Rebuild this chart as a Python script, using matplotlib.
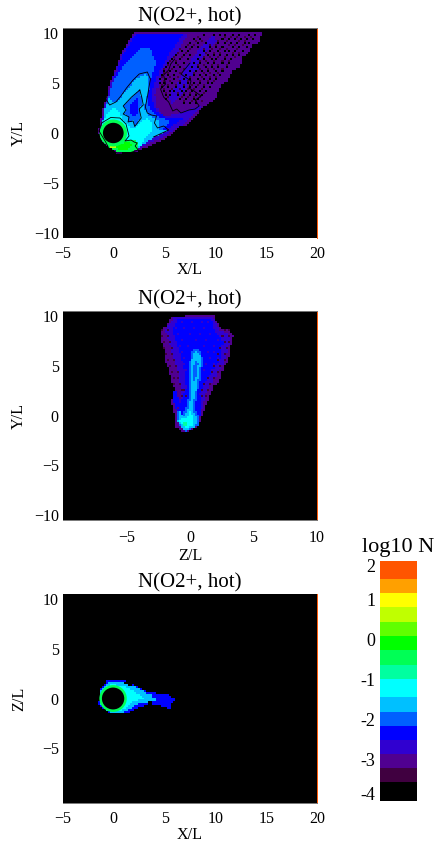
import numpy as np
import matplotlib
matplotlib.use("Agg")
import matplotlib.pyplot as plt
from matplotlib.colors import ListedColormap, BoundaryNorm
from matplotlib.path import Path
from matplotlib.patches import Circle

plt.rcParams['font.family'] = ['Liberation Serif', 'DejaVu Serif']

W, H = 435, 846

# colour scale, log10 N
levels = [-4, -3.53, -3.18, -2.83, -2.48, -2.12, -1.77, -1.4, -0.95, -0.6, -0.22, 0.13, 0.48, 0.84, 1.19, 1.54, 2]
colors = ['#000000', '#400040', '#500090', '#3000d0', '#0000ff', '#0060ff', '#00c0ff', '#00ffff',
          '#00ffa0', '#00ff55', '#00ff00', '#60ff00', '#c0ff00', '#ffff00', '#ffa000', '#ff5500']
cbar_ticks = [2, 1, 0, -1, -2, -3, -4]

# panel 1, X-Y plane: outlines of density levels
p1_env = [(2.0, 10), (14.7, 10), (14.3, 9.4), (14.4, 9.1), (13.6, 8.8), (13.3, 8.0), (12.7, 7.6), (12.4, 6.5), (11.7, 6.3),
          (11.2, 5.2), (10.6, 4.8), (10.1, 3.5), (9.1, 2.7), (8.6, 2.5), (8.1, 1.6), (7.15, 0.8), (6.5, 0.7), (5.8, 0.0),
          (4.5, -0.9), (2.2, -1.9), (0.25, -2.05), (-1.05, -0.9), (-1.6, 0.1), (-1.3, 1.5), (-1.05, 2.8), (-0.7, 3.6),
          (-0.4, 5.1), (0.1, 6.2), (0.75, 8), (1.4, 9.1)]
p1_indigo = [(2.0, 9.9), (7.3, 9.9), (6.2, 8), (5, 6.5), (4.5, 5), (4.1, 3.8), (4.3, 2.5), (4.8, 1.5), (6, 1.9), (8, 2.5),
             (9, 2.9), (7.2, 1.1), (5, -0.3), (2.3, -1.6), (0.3, -1.8), (-0.9, -0.8), (-1.4, 0.1), (-0.9, 2.8),
             (-0.3, 5.1), (0.8, 7.9)]
p1_streak = [(9.8, 9.8), (10.2, 9.1), (9.2, 8.2), (8.7, 7.4), (8.3, 6.2), (7.6, 5.6), (7.0, 4.3), (6.3, 3.4), (5.6, 2.8),
             (5.4, 3.8), (6.3, 5), (7, 6.5), (8.5, 8.5)]
p1_blue = [(2.2, 9.9), (6.8, 9.9), (5.5, 8), (4.5, 6.2), (4, 4.8), (3.7, 3.8), (4.2, 2.2), (5.2, 1.4), (7, 1.6), (6, 0.9),
           (4.5, -0.1), (2.4, -1.4), (0.4, -1.7), (-0.8, -0.7), (-1.2, 0.3), (-0.7, 2.8), (-0.1, 5.1), (0.9, 7.8)]
p1_azure = [(-1.2, 0.4), (-0.8, 2.8), (-0.1, 5.1), (0.8, 6.5), (2.6, 8.5), (3.6, 8.5), (4.2, 7), (3.7, 5.5), (3.5, 4.2),
            (3.3, 3), (3.8, 2.2), (4.6, 1.5), (5.5, 1.2), (4.8, 0.4), (3.6, -0.6), (2.4, -1.4), (0.4, -1.7), (-0.8, -0.7)]
p1_sky = [(-1.3, 0.3), (-0.9, 2.4), (-0.5, 3.4), (0.2, 3.0), (1.25, 4.2), (2.3, 5.5), (3.2, 5.9), (3.5, 5.2), (3.3, 3.6),
          (3, 2.5), (3.5, 1.7), (4.5, 1.3), (4.4, 0.4), (5.5, 0.3), (3.9, -0.5), (2.6, -1.4), (0.5, -1.6), (-0.8, -0.6)]
p1_void = [(2.56, 4.3), (2.75, 3.6), (2.9, 2.8), (2.5, 2.4), (2.7, 1.5), (2.06, 0.65), (1.9, 1.2), (1.4, 1.1), (1.5, 1.6),
           (0.92, 1.9), (1.2, 2.3), (0.92, 2.7), (1.75, 3.6)]
p1_void_core = [(2.4, 3.6), (2.5, 2.5), (2.2, 1.6), (1.6, 1.9), (1.5, 2.6)]
p1_cyan = [(-1.3, 0.2), (-0.8, 1.9), (0, 2.5), (0.6, 2.1), (0.8, 1.3), (1.6, 0.6), (2.2, 0.5), (2.9, 1.2), (3.3, 1.4),
           (3.9, 1.0), (3.7, 0.1), (3.2, -0.4), (2.7, -1.3), (0.5, -1.5), (-0.8, -0.5)]
p1_spring = [(-0.6, -1.1), (0.8, -0.7), (1.6, -0.7), (2.1, -0.7), (2.5, -1.2), (2.4, -1.7), (1.5, -1.9), (0.3, -1.9),
             (-0.5, -1.5)]
p1_green = [(0.2, -1.2), (1.5, -0.9), (1.9, -1.2), (1.5, -1.6), (0.4, -1.7)]
p1_lime = [(-0.4, -1.0), (0.3, -1.1), (0.2, -1.5), (-0.3, -1.5)]
p1_layers = [(-3.0, p1_env), (-2.7, p1_indigo), (-2.7, p1_streak), (-2.3, p1_blue), (-1.9, p1_azure), (-1.6, p1_sky),
             (-1.9, p1_void), (-2.3, p1_void_core), (-1.2, p1_cyan), (-0.4, p1_spring), (0, p1_green), (0.7, p1_lime)]

# black specks in the faint part of the tail, by row
p1_hole_rows = [
    (9.7, [8.9, 9.9, 10.5, 11.0, 11.8, 12.4, 13.3, 14.0]),
    (9.5, [8.3, 10.9, 11.5, 12.1, 12.9, 13.6]),
    (9.3, [7.9, 8.5, 10.7, 11.3, 11.9, 12.6, 13.2, 13.8]),
    (9.1, [8.1, 8.8, 10.4, 11.1, 12.3, 13.0]),
    (8.9, [7.6, 8.3, 9.1, 10.3, 10.9, 11.5, 12.2, 12.9, 13.4]),
    (8.7, [7.4, 8.0, 9.5, 10.1, 11.3, 12.0, 12.7]),
    (8.5, [7.1, 7.8, 8.4, 9.6, 10.2, 10.8, 11.7, 12.4, 13.1]),
    (8.3, [6.6, 7.5, 8.9, 9.8, 10.5, 11.1, 12.2]),
    (8.1, [6.8, 7.3, 8.9, 9.5, 10.3, 10.9, 11.4, 12.0, 12.7]),
    (7.9, [6.4, 7.1, 9.2, 9.9, 10.6, 11.7, 12.3]),
    (7.7, [6.2, 7.0, 7.6, 8.6, 9.3, 9.9, 10.6, 11.2, 11.8, 12.3]),
    (7.5, [5.9, 6.7, 8.9, 9.6, 10.3, 11.0, 11.9]),
    (7.3, [5.8, 6.5, 7.3, 8.3, 8.9, 9.7, 10.2, 11.0, 11.6]),
    (7.1, [5.6, 6.2, 8.5, 9.2, 9.9, 10.7, 11.3]),
    (6.9, [5.4, 6.1, 6.9, 8.0, 8.6, 9.4, 10.0, 10.7, 11.4]),
    (6.7, [5.3, 6.4, 8.3, 9.0, 9.7, 10.3, 11.1]),
    (6.5, [5.2, 5.9, 6.5, 7.8, 8.3, 9.1, 9.8, 10.4, 11.1]),
    (6.3, [5.0, 5.7, 6.9, 8.6, 9.3, 10.0, 10.8]),
    (6.1, [5.0, 5.6, 6.2, 7.5, 8.1, 8.7, 9.4, 10.1, 10.8]),
    (5.9, [4.9, 5.4, 6.6, 7.9, 8.9, 9.6, 10.4]),
    (5.7, [4.8, 5.3, 5.9, 7.2, 7.9, 8.5, 9.2, 9.9, 10.5]),
    (5.5, [4.7, 5.6, 6.4, 7.5, 8.8, 9.5, 10.2]),
    (5.3, [4.6, 5.2, 6.0, 7.0, 7.6, 8.3, 9.0, 9.6, 10.2]),
    (5.1, [4.9, 5.5, 6.5, 7.3, 8.6, 9.4, 10.0]),
    (4.9, [4.5, 5.0, 5.7, 6.6, 7.3, 8.0, 8.6, 9.3, 9.8]),
    (4.7, [4.7, 5.3, 6.1, 7.0, 7.8, 8.4, 9.0]),
    (4.5, [4.7, 5.4, 6.2, 6.9, 7.6, 8.2, 8.9, 9.5]),
    (4.3, [4.9, 5.8, 6.5, 7.3, 8.0, 8.7]),
    (4.1, [4.9, 5.5, 6.0, 6.7, 7.2, 7.8, 8.5, 9.1]),
    (3.9, [5.2, 6.3, 7.0, 7.6, 8.2, 8.9]),
    (3.7, [5.1, 5.6, 6.4, 6.9, 7.5, 8.1, 8.7]),
    (3.5, [5.3, 6.7, 7.3, 7.9, 8.5]),
    (3.3, [5.2, 6.6, 7.2, 7.9, 8.4]),
    (3.1, [7.0, 7.7, 8.2, 8.8]),
    (2.9, [7.0, 7.6, 8.1]),
]

# black contour lines, panel 1
p1_line_ring = [(-1.45, 0.2), (-1.2, 1.0), (-0.3, 1.55), (0.6, 1.5), (1.2, 0.9), (1.5, -0.3), (1.1, -0.8), (1.7, -0.7),
                (2.0, -0.9), (2.3, -1.0), (2.1, -1.3), (2.4, -1.7), (1.5, -2), (0.3, -2), (-0.5, -1.5), (-0.8, -0.9), (-1.45, 0.2)]
p1_line_tongue = [(-0.9, 4.5), (-0.6, 3.9), (-0.8, 3.4), (-0.4, 2.8), (0.2, 3.1), (0.7, 3.7), (1.25, 4.5), (1.9, 5.3), (2.5, 5.9),
                  (3.3, 6.1), (3.6, 5.4), (3.3, 3.6), (3.1, 2.6), (3.3, 2.0), (3.7, 1.8), (4.2, 1.7), (4.0, 1.0), (4.3, 0.5),
                  (4.9, 0.7), (5.4, 0.3), (3.9, -0.4)]
p1_line_tail = [(6.0, 7.4), (5.6, 6.9), (5.4, 6.3), (4.9, 5.8), (5.1, 4.9), (4.6, 4.4), (4.9, 3.6), (5.4, 3.1), (5.8, 2.2), (6.2, 2.4),
                (6.6, 2.0), (7.4, 2.3), (8.0, 2.4), (8.4, 2.7), (8.0, 3.3), (8.6, 3.7), (7.9, 4.2), (7.4, 4.5), (7.6, 5.2),
                (6.6, 5.9), (7.1, 6.5), (7.5, 7.0)]
p1_lines = [p1_line_ring, p1_void + p1_void[:1], p1_line_tongue, p1_line_tail]

# panel 2, Z-Y plane
p2_env = [(-1.44, 9.93), (-0.4, 10), (0.53, 10), (1.97, 10), (2.1, 9.5), (2.49, 8.73), (2.9, 8.6), (3.41, 8.07), (3.2, 7.0),
          (3.02, 5.67), (2.6, 4.8), (2.36, 3.5), (1.9, 3.0), (1.44, 1.5), (1.2, 0.9), (1.0, 0), (0.66, -1.17), (-0.39, -1.83),
          (-1.18, -1.17), (-1.31, 0.67), (-1.5, 1.4), (-1.23, 2.67), (-1.5, 3.4), (-1.71, 4.67), (-1.95, 5.5), (-2.1, 7.0),
          (-2.4, 7.6), (-2.31, 8.73), (-1.9, 9.0)]
p2_indigo = [(-1.3, 9.8), (1.9, 9.8), (2.4, 8.5), (3.2, 8.0), (2.8, 5.8), (2.2, 4.2), (1.6, 3.0), (1.2, 2.0), (0.9, 0.3), (-1, 0.3),
             (-0.7, 2.5), (-1.0, 4.5), (-1.6, 7), (-2.0, 8.6)]
p2_blue = [(-1.0, 9.7), (1.7, 9.7), (2.1, 8.3), (2.6, 7.5), (2.4, 5.6), (1.5, 4.0), (0.8, 2.2), (0.9, 0), (-0.4, -1.3),
           (-1.0, -0.5), (-1, 0.5), (-0.8, 1.2), (-0.3, 2.8), (-0.5, 5), (-1, 7), (-1.4, 8.5)]
p2_left_lobe = [(-1.3, 2.6), (-1.0, 2.4), (-0.9, 1.0), (-1.1, 0.6), (-1.3, 1.4)]
p2_azure = [(0.13, 6.5), (0.53, 6.83), (0.92, 6.33), (1.0, 5.33), (0.79, 3.5), (0.53, 2.0), (0.39, 0.67), (0.79, -0.17),
            (0.66, -1.0), (-0.26, -1.67), (-0.92, -1.0), (-1.05, 0.67), (-0.66, 0), (-0.26, 1.0), (-0.05, 2.67), (-0.13, 4.67)]
p2_sky = [(0.26, 6.33), (0.58, 6.5), (0.87, 6.0), (0.79, 4.67), (0.53, 2.83), (0.26, 1.33), (0.26, 0.33), (0.66, -0.5),
          (0.26, -1.33), (-0.53, -1.5), (-0.97, -0.67), (-0.84, 0.5), (-0.53, -0.17), (-0.05, 1.0), (0.13, 2.67), (0, 4.67)]
p2_hollow = [(0.39, 5.5), (0.66, 5.33), (0.58, 4.17), (0.39, 3.5), (0.2, 3.5), (0.2, 4.67)]
p2_cyan = [(0, 0.5), (0.26, -0.17), (0.26, -1.0), (-0.39, -1.33), (-0.84, -0.67), (-0.66, -0.27), (-0.26, -0.33)]
p2_mint = [(-0.55, -0.7), (-0.2, -0.8), (-0.2, -1.2), (-0.55, -1.2)]
p2_layers = [(-3.0, p2_env), (-2.7, p2_indigo), (-2.3, p2_blue), (-2.3, p2_left_lobe), (-1.9, p2_azure), (-1.6, p2_sky),
             (-1.9, p2_hollow), (-1.2, p2_cyan), (-0.8, p2_mint)]

# dark and bright specks, panel 2: (Y, Z values)
p2_dark_rows = [
    (8.6, [-2.2, -1.8, 2.7, 3.1]), (8.0, [-2.2, -1.7, 2.5, 3.0]), (7.4, [-2.1, -1.6, 2.7, 3.1]),
    (6.8, [-2.0, -1.5, 2.4, 2.9]), (6.2, [-1.9, -1.4, 2.3, 2.8]), (5.6, [-1.8, -1.2, 2.2, 2.7]),
    (5.0, [-1.6, -1.1, 1.9, 2.4]), (4.4, [-1.5, -1.0, 1.7, 2.2]), (3.8, [-1.3, -0.9, 1.4, 2.0]),
    (3.2, [-1.2, -0.8, 1.1, 1.6]), (2.6, [-0.7, -0.4, 0.9, 1.4]), (2.0, [-0.7, -0.3, 1.0, 1.3]),
]
p2_indigo_rows = [
    (9.4, [-0.7, 0.2, 0.9, 1.5]), (8.8, [-1.1, -0.4, 0.4, 1.2, 1.9]), (8.2, [-0.9, 0.0, 0.8, 1.6]),
    (7.6, [-0.6, 0.5, 1.3, 2.2]), (7.0, [-0.8, -0.2, 1.1, 1.9]), (6.4, [-0.7, 1.4, 2.0]),
    (5.8, [-0.4, 1.6, 2.2]), (5.2, [-0.5, 1.3, 1.9]), (4.6, [-0.3, 1.2, 1.7]),
]

# panel 3, X-Z plane
p3_blue = [(-0.72, 1.8), (0.2, 1.9), (1.25, 1.8), (2.56, 1.13), (3.54, 0.63), (4.0, 0.7), (4.53, 0.47), (5.2, 0.6), (5.51, 0.3),
           (6.23, -0.1), (5.51, -0.53), (5.68, -1.2), (4.85, -0.87), (4.2, -0.7), (3.54, -0.53), (2.39, -1.03), (1.25, -1.53),
           (-0.39, -1.53), (-1.54, -0.7), (-1.38, 1.0)]
p3_sky = [(-0.6, 1.65), (1.1, 1.65), (2.6, 1.0), (3.5, 0.45), (4.4, 0.25), (4.2, -0.3), (3.0, -0.45), (1.9, -0.95),
          (0.9, -1.45), (-0.4, -1.45), (-1.4, -0.65), (-1.3, 0.9)]
p3_cyan = [(-0.4, 1.45), (0.9, 1.35), (2.2, 0.65), (3.0, 0.0), (1.9, -0.4), (0.9, -1.2), (-0.4, -1.3), (-1.2, -0.5), (-1.2, 0.8)]
p3_patch_a = [(2.1, -0.65), (2.9, -0.5), (2.55, -0.95), (2.1, -0.95)]
p3_patch_b = [(3.85, 0.2), (5.2, 0.3), (5.3, -0.1), (4.2, 0)]
p3_gap_a = [(1.1, 1.75), (1.9, 1.45), (1.7, 1.3), (1.1, 1.55)]
p3_gap_b = [(3.4, -0.3), (4.0, -0.3), (3.8, -0.5), (3.4, -0.45)]
p3_layers = [(-2.3, p3_blue), (-1.6, p3_sky), (-1.2, p3_cyan), (-2.3, p3_patch_a), (-2.3, p3_patch_b), (-3.9, p3_gap_a),
             (-3.9, p3_gap_b)]

cmap = ListedColormap(colors)
norm = BoundaryNorm(levels, cmap.N)


def px_axes(left, top, right, bottom):
    return fig.add_axes([left / W, 1 - bottom / H, (right - left) / W, (bottom - top) / H])


def draw_field(layers, xlim, ylim, step_x, step_y):
    xe = np.arange(xlim[0], xlim[1] + step_x, step_x)
    ye = np.arange(ylim[0], ylim[1] + step_y, step_y)
    xc, yc = np.meshgrid((xe[:-1] + xe[1:]) / 2, (ye[:-1] + ye[1:]) / 2)
    pts = np.column_stack([xc.ravel(), yc.ravel()])
    field = np.full(xc.shape, -3.9)
    for val, poly in layers:
        inside = Path(poly + [poly[0]]).contains_points(pts).reshape(xc.shape)
        field[inside] = val
    return xe, ye, field


def set_cells(field, xe, ye, rows, val):
    for y, xs in rows:
        j = np.searchsorted(ye, y) - 1
        for x in xs:
            field[j, np.searchsorted(xe, x) - 1] = val


def style(ax, xlim, ylim, xticks, yticks, xlabel, ylabel, top_line, bottom_line, xpad, labelpad):
    ax.set_xlim(xlim)
    ax.set_ylim(ylim)
    ax.set_xticks(xticks)
    ax.set_yticks(yticks)
    ax.tick_params(length=0, labelsize=11.5)
    ax.tick_params(axis='x', pad=xpad)
    ax.tick_params(axis='y', pad=3)
    ax.set_title("N(O2+, hot)", fontsize=15, pad=5)
    ax.set_xlabel(xlabel, fontsize=11.6, labelpad=labelpad)
    ax.set_ylabel(ylabel, fontsize=11.6)
    ax.yaxis.set_label_coords((27 - 63) / 254, 0.5)
    ax.spines['left'].set_visible(False)
    ax.spines['right'].set_color('#ff5500')
    ax.spines['right'].set_linewidth(0.7)
    ax.spines['top'].set_color('#777777')
    ax.spines['top'].set_linewidth(0.7)
    ax.spines['top'].set_visible(top_line)
    ax.spines['bottom'].set_color('#777777')
    ax.spines['bottom'].set_linewidth(0.7)
    ax.spines['bottom'].set_visible(bottom_line)


fig = plt.figure(figsize=(W / 100, H / 100), dpi=100)

# panel 1
ax1 = px_axes(63, 28, 317, 238)
xlim1, ylim1 = (-5, 20), (-10.5, 10.5)
xe, ye, f1 = draw_field(p1_layers, xlim1, ylim1, 0.2, 0.2)
set_cells(f1, xe, ye, p1_hole_rows[::2], -3.9)
set_cells(f1, xe, ye, p1_hole_rows[1::2], -3.3)
ax1.pcolormesh(xe, ye, f1, cmap=cmap, norm=norm, antialiased=False)
ax1.add_patch(Circle((-0.05, 0), 1.35, color='#00ff55', lw=0))
ax1.add_patch(Circle((-0.05, 0), 1.02, color='black', lw=0))
for line in p1_lines:
    lx, ly = zip(*line)
    ax1.plot(lx, ly, color='black', lw=0.6)
style(ax1, xlim1, ylim1, [-5, 0, 5, 10, 15, 20], [-10, -5, 0, 5, 10], "X/L", "Y/L", True, False, 6, 0)

# panel 2
ax2 = px_axes(63, 311, 317, 520)
xlim2, ylim2 = (-10, 10), (-10.5, 10.5)
xe, ye, f2 = draw_field(p2_layers, xlim2, ylim2, 0.16, 0.2)
set_cells(f2, xe, ye, p2_dark_rows, -3.3)
set_cells(f2, xe, ye, p2_indigo_rows, -2.7)
ax2.pcolormesh(xe, ye, f2, cmap=cmap, norm=norm, antialiased=False)
style(ax2, xlim2, ylim2, [-5, 0, 5, 10], [-10, -5, 0, 5, 10], "Z/L", "Y/L", True, True, 7.5, 1)

# panel 3
ax3 = px_axes(63, 594, 317, 803)
xlim3, ylim3 = (-5, 20), (-10.5, 10.5)
xe, ye, f3 = draw_field(p3_layers, xlim3, ylim3, 0.2, 0.2)
ax3.pcolormesh(xe, ye, f3, cmap=cmap, norm=norm, antialiased=False)
ax3.add_patch(Circle((-0.07, 0), 1.35, color='#00ff55', lw=0))
ax3.add_patch(Circle((-0.07, 0), 1.1, color='black', lw=0))
style(ax3, xlim3, ylim3, [-5, 0, 5, 10, 15, 20], [-5, 0, 5, 10], "X/L", "Z/L", False, True, 6, 0)

# colour bar
cax = px_axes(380, 561, 417, 801)
cax.pcolormesh([0, 1], levels, np.array(levels[:-1])[:, None] + 0.01, cmap=cmap, norm=norm, antialiased=False)
cax.set_xlim(0, 1)
cax.set_ylim(-4, 2)
cax.set_xticks([])
cax.set_yticks([])
for s in cax.spines.values():
    s.set_visible(False)
for t in cbar_ticks:
    # end labels sit inside the bar's extent
    pos = {2: 1.83, -4: -3.87}.get(t, t)
    cax.text(-0.12, pos, str(t), ha='right', va='center', fontsize=13)
cax.text(0.5, 1.015, "log10 N", ha='center', va='bottom', fontsize=16, transform=cax.transAxes)

fig.savefig("out.png", dpi=100)
